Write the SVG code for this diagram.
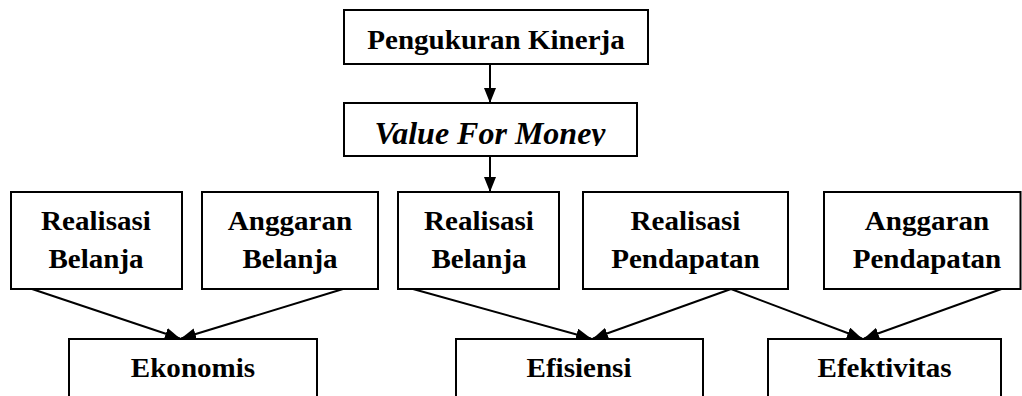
<svg xmlns="http://www.w3.org/2000/svg" width="1022" height="396" viewBox="0 0 1022 396">
<style>
.box{fill:#fff;stroke:#000;stroke-width:2}
.c{stroke:#000;stroke-width:2;fill:none;marker-end:url(#ah)}
</style>
<defs>
<marker id="ah" viewBox="0 0 15 12" refX="15" refY="6" markerWidth="15" markerHeight="12" markerUnits="userSpaceOnUse" orient="auto">
<path d="M0,0 L15,6 L0,12 z" fill="#000"/>
</marker>
<clipPath id="vclip"><rect x="344" y="103" width="293" height="43"/></clipPath>
</defs>
<rect width="1022" height="396" fill="#fff"/>
<g id="connectors">
<line class="c" x1="490" y1="65" x2="490" y2="103"/>
<line class="c" x1="490" y1="157" x2="490" y2="192"/>
<line class="c" x1="32" y1="289" x2="180" y2="338.5"/>
<line class="c" x1="343" y1="289" x2="181" y2="338.5"/>
<line class="c" x1="413" y1="289" x2="591" y2="338.5"/>
<line class="c" x1="731" y1="289" x2="593" y2="338.5"/>
<line class="c" x1="731" y1="289" x2="862" y2="338.5"/>
<line class="c" x1="1001.5" y1="289" x2="864" y2="338.5"/>
</g>
<g font-family="'Liberation Serif', 'Times New Roman', Times, serif" font-weight="bold" font-size="27.5" fill="#000" text-anchor="middle">
<g id="n-pengukuran">
<rect class="box" x="344" y="10" width="304" height="54"/>
<text transform="translate(496 49) scale(1.057 1)">Pengukuran Kinerja</text>
</g>
<g id="n-vfm">
<rect class="box" x="344" y="103" width="293" height="53"/>
<text x="490" y="144" font-style="italic" font-size="32" clip-path="url(#vclip)">Value For Money</text>
</g>
<g id="n-realisasi-belanja-1">
<rect class="box" x="11" y="192" width="171" height="97"/>
<text transform="translate(96 230) scale(1.057 1)">Realisasi</text>
<text transform="translate(96 268) scale(1.057 1)">Belanja</text>
</g>
<g id="n-anggaran-belanja">
<rect class="box" x="202" y="192" width="176" height="97"/>
<text transform="translate(290 230) scale(1.057 1)">Anggaran</text>
<text transform="translate(290 268) scale(1.057 1)">Belanja</text>
</g>
<g id="n-realisasi-belanja-2">
<rect class="box" x="398" y="192" width="161" height="97"/>
<text transform="translate(479 230) scale(1.057 1)">Realisasi</text>
<text transform="translate(479 268) scale(1.057 1)">Belanja</text>
</g>
<g id="n-realisasi-pendapatan">
<rect class="box" x="583" y="192" width="205" height="97"/>
<text transform="translate(685.5 230) scale(1.057 1)">Realisasi</text>
<text transform="translate(685.5 268) scale(1.057 1)">Pendapatan</text>
</g>
<g id="n-anggaran-pendapatan">
<rect class="box" x="824" y="192" width="196.5" height="97"/>
<text transform="translate(927 230) scale(1.057 1)">Anggaran</text>
<text transform="translate(927 268) scale(1.057 1)">Pendapatan</text>
</g>
<g id="n-ekonomis">
<rect class="box" x="69" y="339" width="248" height="70"/>
<text transform="translate(193 377) scale(1.057 1)">Ekonomis</text>
</g>
<g id="n-efisiensi">
<rect class="box" x="456" y="339" width="247" height="70"/>
<text transform="translate(579 377) scale(1.057 1)">Efisiensi</text>
</g>
<g id="n-efektivitas">
<rect class="box" x="768" y="339" width="233" height="70"/>
<text transform="translate(884.5 377) scale(1.057 1)">Efektivitas</text>
</g>
</g>
</svg>
